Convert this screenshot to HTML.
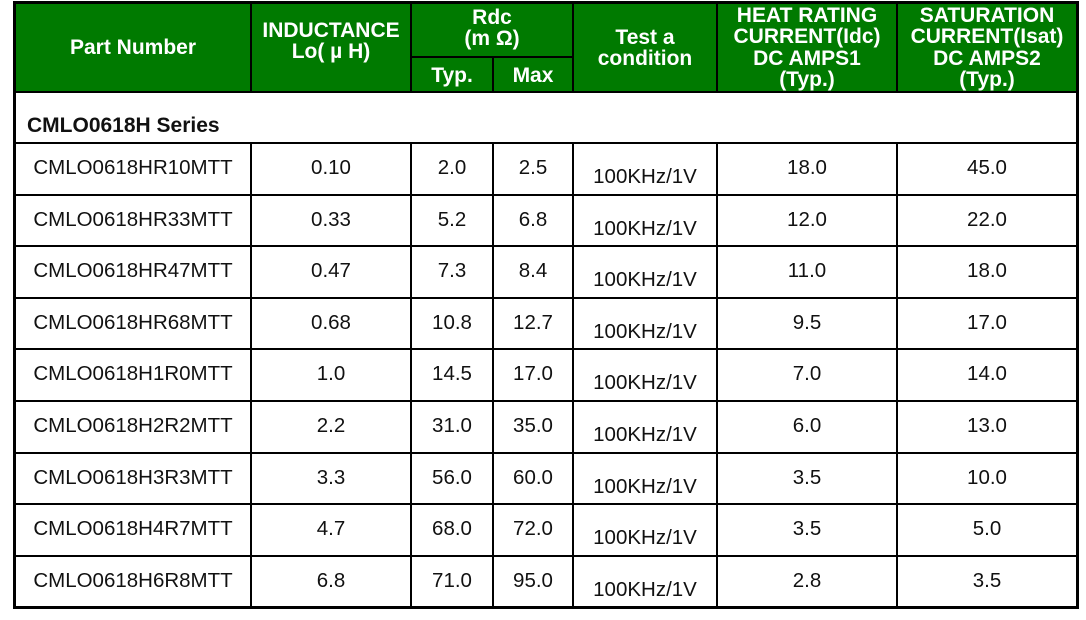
<!DOCTYPE html>
<html><head><meta charset="utf-8"><style>
body{margin:0;background:#fff;width:1086px;height:620px;overflow:hidden;position:relative;font-family:"Liberation Sans",Arial,sans-serif;}
.g{position:absolute;background:#007a00;}
.l{position:absolute;background:#000;}
.c{position:absolute;display:flex;align-items:center;justify-content:center;text-align:center;font-size:20.5px;color:#111;}
.h{color:#fff;font-weight:bold;font-size:21px;line-height:21px;}
</style></head><body>
<div class="g" style="left:15px;top:3px;width:1062px;height:89px"></div>
<!-- header lines -->
<div class="l" style="left:13px;top:1px;width:1066px;height:3px"></div>
<div class="l" style="left:13px;top:1px;width:3px;height:608px"></div>
<div class="l" style="left:1076px;top:1px;width:3px;height:608px"></div>
<div class="l" style="left:13px;top:606px;width:1066px;height:3px"></div>
<div class="l" style="left:15px;top:91px;width:1062px;height:2px"></div>
<div class="l" style="left:411px;top:56px;width:163px;height:2px"></div>
<div class="l" style="left:250px;top:3px;width:2px;height:89px"></div>
<div class="l" style="left:410px;top:3px;width:2px;height:89px"></div>
<div class="l" style="left:492px;top:57px;width:2px;height:35px"></div>
<div class="l" style="left:572px;top:3px;width:2px;height:89px"></div>
<div class="l" style="left:716px;top:3px;width:2px;height:89px"></div>
<div class="l" style="left:896px;top:3px;width:2px;height:89px"></div>
<!-- body horizontal lines -->
<div class="l" style="left:15px;top:142px;width:1062px;height:2px"></div>
<div class="l" style="left:15px;top:194px;width:1062px;height:2px"></div>
<div class="l" style="left:15px;top:245px;width:1062px;height:2px"></div>
<div class="l" style="left:15px;top:297px;width:1062px;height:2px"></div>
<div class="l" style="left:15px;top:348px;width:1062px;height:2px"></div>
<div class="l" style="left:15px;top:400px;width:1062px;height:2px"></div>
<div class="l" style="left:15px;top:452px;width:1062px;height:2px"></div>
<div class="l" style="left:15px;top:503px;width:1062px;height:2px"></div>
<div class="l" style="left:15px;top:555px;width:1062px;height:2px"></div>
<!-- body verticals -->
<div class="l" style="left:250px;top:143px;width:2px;height:464px"></div>
<div class="l" style="left:410px;top:143px;width:2px;height:464px"></div>
<div class="l" style="left:492px;top:143px;width:2px;height:464px"></div>
<div class="l" style="left:572px;top:143px;width:2px;height:464px"></div>
<div class="l" style="left:716px;top:143px;width:2px;height:464px"></div>
<div class="l" style="left:896px;top:143px;width:2px;height:464px"></div>
<!-- header text -->
<div class="c h" style="left:15px;top:3px;width:236px;height:89px">Part Number</div>
<div class="c h" style="left:251px;top:20px;width:160px;height:42px">INDUCTANCE<br>Lo( µ H)</div>
<div class="c h" style="left:411px;top:5px;width:162px;height:46px">Rdc<br>(m Ω)</div>
<div class="c h" style="left:411px;top:58px;width:82px;height:34px">Typ.</div>
<div class="c h" style="left:493px;top:58px;width:80px;height:34px">Max</div>
<div class="c h" style="left:573px;top:3px;width:144px;height:89px">Test a<br>condition</div>
<div class="c h" style="left:717px;top:3px;width:180px;height:89px;line-height:21.5px">HEAT RATING<br>CURRENT(Idc)<br>DC AMPS1<br>(Typ.)</div>
<div class="c h" style="left:897px;top:3px;width:180px;height:89px;line-height:21.5px">SATURATION<br>CURRENT(Isat)<br>DC AMPS2<br>(Typ.)</div>
<div class="c" style="left:27px;top:112px;height:28px;font-weight:bold;font-size:21px;justify-content:flex-start">CMLO0618H Series</div>
<div id="rows"></div>
<script>
var d=[["CMLO0618HR10MTT","0.10","2.0","2.5","18.0","45.0"],["CMLO0618HR33MTT","0.33","5.2","6.8","12.0","22.0"],["CMLO0618HR47MTT","0.47","7.3","8.4","11.0","18.0"],["CMLO0618HR68MTT","0.68","10.8","12.7","9.5","17.0"],["CMLO0618H1R0MTT","1.0","14.5","17.0","7.0","14.0"],["CMLO0618H2R2MTT","2.2","31.0","35.0","6.0","13.0"],["CMLO0618H3R3MTT","3.3","56.0","60.0","3.5","10.0"],["CMLO0618H4R7MTT","4.7","68.0","72.0","3.5","5.0"],["CMLO0618H6R8MTT","6.8","71.0","95.0","2.8","3.5"]];
var xs=[[15,236],[251,160],[411,82],[493,80],[717,180],[897,180]];var h="";
d.forEach(function(r,i){var y=168+51.6*i;r.forEach(function(t,j){h+='<div class="c" style="left:'+xs[j][0]+'px;top:'+(y-14)+'px;width:'+xs[j][1]+'px;height:28px">'+t+'</div>';});
h+='<div class="c" style="left:573px;top:'+(y-5)+'px;width:144px;height:28px">100KHz/1V</div>';});
document.getElementById("rows").innerHTML=h;
</script>
</body></html>
